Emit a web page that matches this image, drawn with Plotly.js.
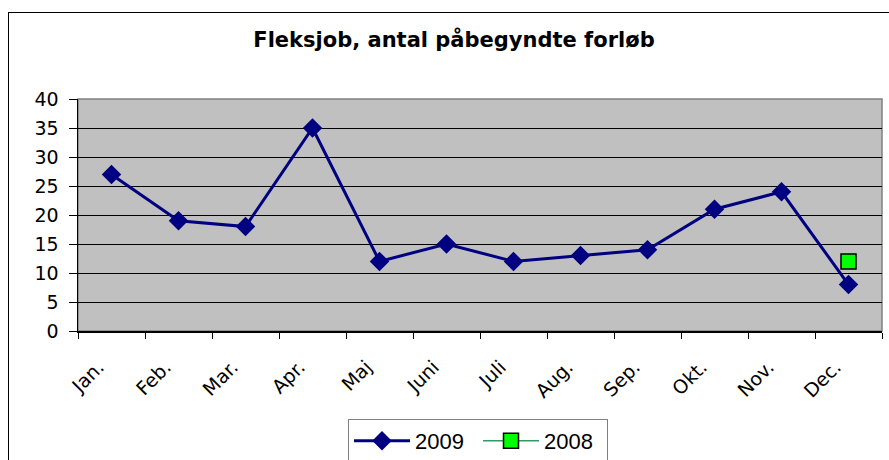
<!DOCTYPE html>
<html><head><meta charset="utf-8">
<script src="https://cdn.plot.ly/plotly-3.0.1.min.js"></script>
<style>body{margin:0;background:#fff;overflow:hidden}#frame{position:absolute;left:8px;top:12px;width:1000px;height:1000px;border:1.5px solid #000;pointer-events:none}</style>
</head><body>
<div id="chart" style="width:889px;height:460px"></div>
<div id="frame"></div>
<script>
const months = ["Jan.","Feb.","Mar.","Apr.","Maj","Juni","Juli","Aug.","Sep.","Okt.","Nov.","Dec."];
const values2009 = [27,19,18,35,12,15,12,13,14,21,24,8];
const values2008 = [null,null,null,null,null,null,null,null,null,null,null,12];
const yTicks = [0,5,10,15,20,25,30,35,40];

const tickFont = {family:"DejaVu Sans, Verdana, sans-serif", size:19, color:"#000"};
const legendFont = {family:"Liberation Sans, Arial, sans-serif", size:22, color:"#000"};
const traces = [
  {x:months, y:values2009, name:"2009", type:"scatter", mode:"lines+markers",
   line:{color:"#000080", width:3}, marker:{symbol:"diamond", size:15, color:"#000080"}},
  {x:months, y:values2008, name:"2008", type:"scatter", mode:"lines+markers",
   line:{color:"#339966", width:1.5}, marker:{symbol:"square", size:15, color:"#00FF00", line:{color:"#000", width:1.5}}}
];
const layout = {
  width:889, height:460, margin:{l:78, r:7, t:99, b:129, autoexpand:false},
  paper_bgcolor:"#fff", plot_bgcolor:"#C0C0C0", font:tickFont, showlegend:true,
  title:{text:"<b>Fleksjob, antal påbegyndte forløb</b>", font:{family:"DejaVu Sans, Verdana, sans-serif", size:21, color:"#000"},
    x:454/889, xanchor:"center", y:1-40/460, yanchor:"middle", xref:"container", yref:"container"},
  xaxis:{type:"category", categoryorder:"array", categoryarray:months, range:[-0.5,11.5],
    tickson:"boundaries", ticks:"outside", ticklen:6, tickcolor:"#000", tickwidth:1,
    showline:true, linecolor:"#000", linewidth:1.5, showgrid:false, tickangle:-45, tickfont:tickFont,
    ticklabelstandoff:16, ticklabelshift:-13, fixedrange:true},
  yaxis:{range:[0,40], tickvals:yTicks, ticks:"outside", ticklen:8, tickcolor:"#000",
    showline:true, linecolor:"#000", linewidth:1.5, showgrid:true, gridcolor:"#000", gridwidth:1,
    zeroline:false, tickfont:tickFont, ticklabelstandoff:6, fixedrange:true},
  legend:{orientation:"h", x:348/889, xanchor:"left", xref:"container", y:1-419/460, yanchor:"top", yref:"container",
    bordercolor:"#808080", borderwidth:1, bgcolor:"#fff", font:legendFont, traceorder:"normal", itemwidth:56,
    entrywidth:58, entrywidthmode:"pixels"},
  shapes:[{type:"rect", xref:"paper", yref:"paper", x0:0, x1:1, y0:0, y1:1, line:{color:"#808080", width:1.5}, layer:"below"}]
};
Plotly.newPlot("chart", traces, layout, {displayModeBar:false, staticPlot:true});
</script>
</body></html>
